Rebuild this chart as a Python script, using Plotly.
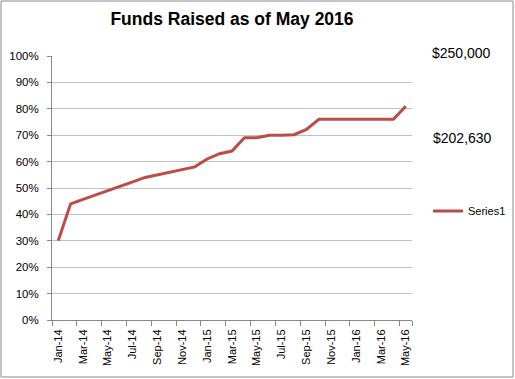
import plotly.graph_objects as go

months = ["Jan-14","Feb-14","Mar-14","Apr-14","May-14","Jun-14","Jul-14","Aug-14","Sep-14","Oct-14","Nov-14","Dec-14",
          "Jan-15","Feb-15","Mar-15","Apr-15","May-15","Jun-15","Jul-15","Aug-15","Sep-15","Oct-15","Nov-15","Dec-15",
          "Jan-16","Feb-16","Mar-16","Apr-16","May-16"]
series1 = [0.30,0.44,0.457,0.473,0.49,0.507,0.523,0.54,0.55,0.56,0.57,0.58,
           0.61,0.63,0.64,0.69,0.69,0.70,0.70,0.702,0.722,0.76,0.76,0.76,
           0.76,0.76,0.76,0.76,0.81]
tick_labels = months[::2]
title_text = "Funds Raised as of May 2016"
goal_text = "$250,000"
raised_text = "$202,630"

font = "Liberation Sans"
fig = go.Figure()
fig.add_trace(go.Scatter(x=months, y=series1, mode="lines", name="Series1",
                         line=dict(color="#be4b48", width=3)))

L, R, T, B = 52, 412, 56, 320
W, H = 515, 379
def px(x): return (x - L) / (R - L)
def py(y): return (B - y) / (B - T)

fig.update_layout(
    width=W, height=H,
    margin=dict(l=L, r=W - R, t=T, b=H - B, autoexpand=False),
    paper_bgcolor="white", plot_bgcolor="white",
    font=dict(family=font, color="#000000", size=11),
    title=dict(text="<b>" + title_text + "</b>", x=232 / W, xanchor="center",
               y=1 - 19 / H, yanchor="middle", font=dict(size=17.5, family=font)),
    showlegend=True,
    legend=dict(x=px(428), y=py(211), xanchor="left", yanchor="middle",
                font=dict(size=11), bgcolor="rgba(0,0,0,0)", itemwidth=30),
    xaxis=dict(type="category", tickmode="array", tickvals=tick_labels, ticktext=tick_labels,
               tickangle=-90, tickson="boundaries", ticks="outside", ticklen=5, tickcolor="#888888",
               showgrid=False, showline=True, linecolor="#888888", linewidth=1, automargin=False,
               ticklabelstandoff=4,
               range=[-0.5, len(months) - 0.5], tickfont=dict(size=11)),
    yaxis=dict(range=[0, 1], dtick=0.1, tickformat=".0%", showgrid=True, gridcolor="#c0c0c0",
               gridwidth=1, showline=True, linecolor="#888888", linewidth=1, ticks="outside",
               ticklen=4, tickcolor="#888888", zeroline=False, automargin=False,
               ticklabelstandoff=6, tickfont=dict(size=11.5)),
    annotations=[
        dict(text=goal_text, x=px(461), y=py(53), xref="paper", yref="paper", showarrow=False,
             xanchor="center", yanchor="middle", font=dict(size=14)),
        dict(text=raised_text, x=px(462), y=py(138), xref="paper", yref="paper", showarrow=False,
             xanchor="center", yanchor="middle", font=dict(size=14)),
    ],
    shapes=[dict(type="rect", xref="paper", yref="paper", x0=px(1), x1=px(513), y0=py(377), y1=py(1),
                 line=dict(color="#8a8a8a", width=1), fillcolor="rgba(0,0,0,0)")],
)
fig.write_html("out.html", config={"displayModeBar": False},
               post_script="document.body.style.margin='0';")
